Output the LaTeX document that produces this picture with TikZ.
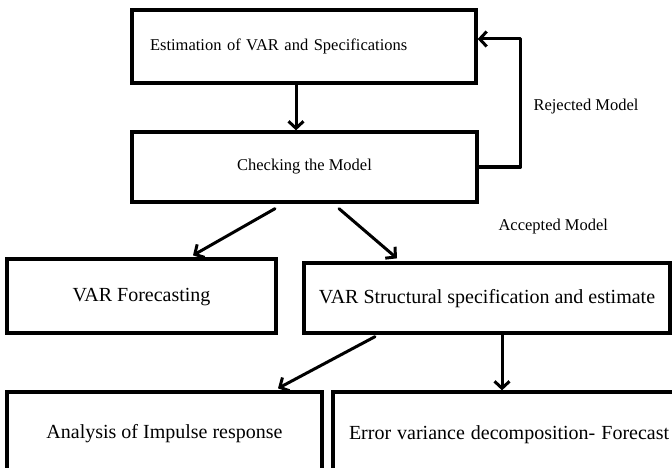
\documentclass[tikz,border=0pt]{standalone}
\usepackage{fontspec}
\setmainfont{Liberation Serif}
\usetikzlibrary{arrows.meta,positioning,calc}
\tikzstyle{every node}=[font=\fontsize{16.5}{19}\selectfont]
\tikzstyle{box}=[draw,rectangle,inner sep=0pt,line width=3.3pt,line join=miter]
\tikzstyle{big}=[font=\fontsize{20}{24}\selectfont,text height=1.4em,text depth=.22em]
\tikzstyle{arr}=[-{Straight Barb[length=7pt,width=15pt]},line width=3pt,line cap=round,line join=round]
\begin{document}
\begin{tikzpicture}[x=1pt,y=-1pt]
\clip (0,0) rectangle (672,468);
\node[box,minimum width=344pt,minimum height=73pt,text width=308pt,align=left] (est) at (304,46.5) {Estimation of VAR and Specifications};
\node[box,minimum width=345pt,minimum height=70pt] (chk) at (304.5,167) {Checking the Model};
\node[box,big,minimum width=269pt,minimum height=74pt] (fc) at (141.5,296) {VAR Forecasting};
\node[box,big,minimum width=366pt,minimum height=70pt] (st) at (487,298) {VAR Structural specification and estimate};
\node[box,big,minimum width=315pt,minimum height=82pt] (an) at (164.5,433) {Analysis of Impulse response};
\node[box,big,minimum width=378pt,minimum height=84pt,text width=346pt,align=left] (er) at (522,434) {\spaceskip=.3em Error variance decomposition- Forecast};
\node[anchor=west] (rej) at (530,107) {Rejected Model};
\node[anchor=west] (acc) at (495,227) {Accepted Model};
% links
\draw[arr] ([xshift=-8pt]est.south) -- ([xshift=-8pt]est.south |- chk.north);
\draw[arr] (chk.east) -- ++(42,0) |- ([yshift=7.5pt]est.east);
\draw[arr] ([xshift=-29.5pt,yshift=-5pt]chk.south) -- ([xshift=51.5pt,yshift=2pt]fc.north);
\draw[arr] ([xshift=34.5pt,yshift=-5pt]chk.south) -- ([xshift=-90pt,yshift=3pt]st.north);
\draw[arr] ([xshift=-112pt,yshift=-2pt]st.south) -- ([xshift=113.5pt,yshift=2pt]an.north);
\draw[arr] ([xshift=15pt]st.south) -- ([xshift=15pt]st.south |- er.north);
\end{tikzpicture}
\end{document}
